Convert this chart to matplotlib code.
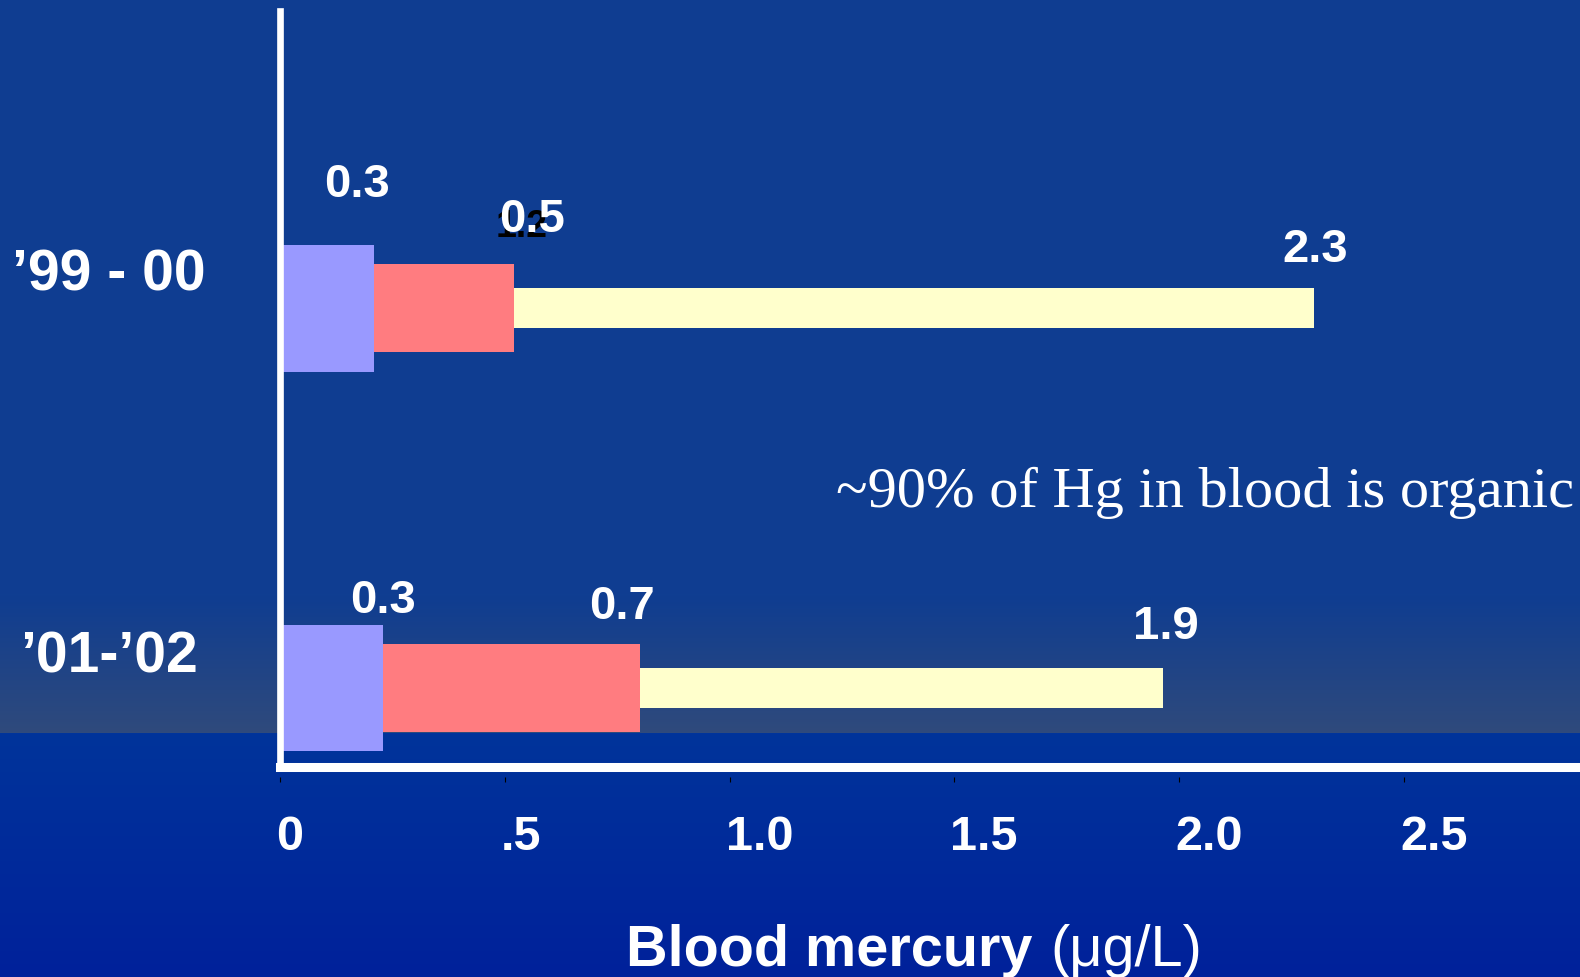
import numpy as np
import matplotlib
matplotlib.use("Agg")
import matplotlib.pyplot as plt
from matplotlib.colors import to_rgb
from matplotlib.transforms import ScaledTranslation

# --- data -------------------------------------------------------------
periods = ["\u201999 - 00", "\u201901-\u201902"]

# bar lengths as drawn (ug/L)
lavender_vals = [0.21, 0.23]
salmon_vals = [0.52, 0.80]
cream_vals = [2.30, 1.963]

# numbers printed above the bars
lavender_labels = ["0.3", "0.3"]
salmon_labels = ["0.5", "0.7"]
cream_labels = ["2.3", "1.9"]
hidden_label = "1.2"  # black text mostly covered by the white "0.5"

x_ticks = [0, 0.5, 1.0, 1.5, 2.0, 2.5]
x_tick_labels = ["0", ".5", "1.0", "1.5", "2.0", "2.5"]

note = "~90% of Hg in blood is organic"
xlabel_bold = "Blood mercury"
xlabel_unit = "(\u03bcg/L)"

# --- style ------------------------------------------------------------
W, H = 1580, 977
FONT = "Liberation Sans"
LAVENDER = "#9999ff"
SALMON = "#ff7c80"
CREAM = "#ffffcc"

# label offsets in pixels from (bar end, row centre)
lavender_off = [(-17, 111), (0, 75)]
salmon_off = [(18, 76), (-18, 69)]
cream_off = [(1, 46), (3, 49)]
hidden_off = (8, 71)
period_dy = [18, 15]


def ramp(c1, c2, n):
    a, b = np.array(to_rgb(c1)), np.array(to_rgb(c2))
    t = np.linspace(0, 1, n)[:, None]
    return a + (b - a) * t


fig = plt.figure(figsize=(W / 100, H / 100), dpi=100)

# background: flat navy, greyish band, then brighter blue below the axis
bg = np.vstack([
    ramp("#0f3d91", "#0f3e91", 595),
    ramp("#0f3d91", "#2f4a7c", 733 - 595),
    ramp("#00349b", "#00219a", H - 733),
])[:, None, :]
bg_ax = fig.add_axes([0, 0, 1, 1], zorder=-1)
bg_ax.imshow(bg, aspect="auto", extent=(0, 1, 0, 1))
bg_ax.axis("off")

ax = fig.add_axes([280 / W, 1 - 767 / H, 1298 / W, 756 / H])
ax.set_facecolor("none")

y = np.arange(len(periods))
ax.barh(y, cream_vals, height=0.105, color=CREAM, zorder=3)
ax.barh(y, salmon_vals, height=0.232, color=SALMON, zorder=4)
ax.barh(y, lavender_vals, height=0.334, color=LAVENDER, zorder=5)

ax.set_xlim(0, 2.887)
ax.set_ylim(1.208, -0.782)

def put(txt, x, yy, off, color="white", size=34):
    ax.annotate(txt, xy=(x, yy), xytext=off, textcoords="offset pixels",
                ha="center", va="baseline", color=color, fontsize=size,
                fontweight="bold", family=FONT, zorder=6, annotation_clip=False)

put(hidden_label, salmon_vals[0], y[0], hidden_off, color="black", size=27)
for i in range(len(periods)):
    put(lavender_labels[i], lavender_vals[i], y[i], lavender_off[i])
    put(salmon_labels[i], salmon_vals[i], y[i], salmon_off[i])
    put(cream_labels[i], cream_vals[i], y[i], cream_off[i])
    ax.annotate(periods[i], xy=(-0.132, y[i]), xycoords=("axes fraction", "data"),
                xytext=(0, period_dy[i]), textcoords="offset pixels",
                ha="center", va="baseline", color="white", fontsize=41,
                fontweight="bold", family=FONT, annotation_clip=False)

# spines
for s in ["top", "right"]:
    ax.spines[s].set_visible(False)
ax.spines["left"].set_color("white")
ax.spines["left"].set_linewidth(4.8)
ax.spines["left"].set_zorder(7)
ax.spines["bottom"].set_color("white")
ax.spines["bottom"].set_linewidth(6.5)
ax.spines["bottom"].set_zorder(7)
ax.tick_params(left=False, labelleft=False, bottom=False, labelbottom=False)

# black ticks and labels sit a little below the white axis line
sec = ax.secondary_xaxis(-10 / 756)
sec.spines["bottom"].set_visible(False)
sec.set_xticks(x_ticks, x_tick_labels)
sec.tick_params(direction="out", length=3.6, width=0.8, color="black",
                pad=24, labelsize=35, labelcolor="white")
shift = ScaledTranslation(-4 / 100, 0, fig.dpi_scale_trans)
for lab in sec.get_xticklabels():
    lab.set_fontweight("bold")
    lab.set_family(FONT)
    lab.set_horizontalalignment("left")
    lab.set_transform(lab.get_transform() + shift)

fig.text(836 / W, 1 - 507 / H, note, color="white", fontsize=42,
         family="Liberation Serif", va="baseline", ha="left")

t1 = fig.text(626 / W, 1 - 966 / H, xlabel_bold, color="white", fontsize=41.5,
              fontweight="bold", family=FONT, va="baseline", ha="left")
fig.canvas.draw()
bb = t1.get_window_extent()
fig.text((bb.x1 + 18) / W, 1 - 966 / H, xlabel_unit, color="white",
         fontsize=41.5, family=FONT, va="baseline", ha="left")

fig.savefig("out.png", dpi=100)
